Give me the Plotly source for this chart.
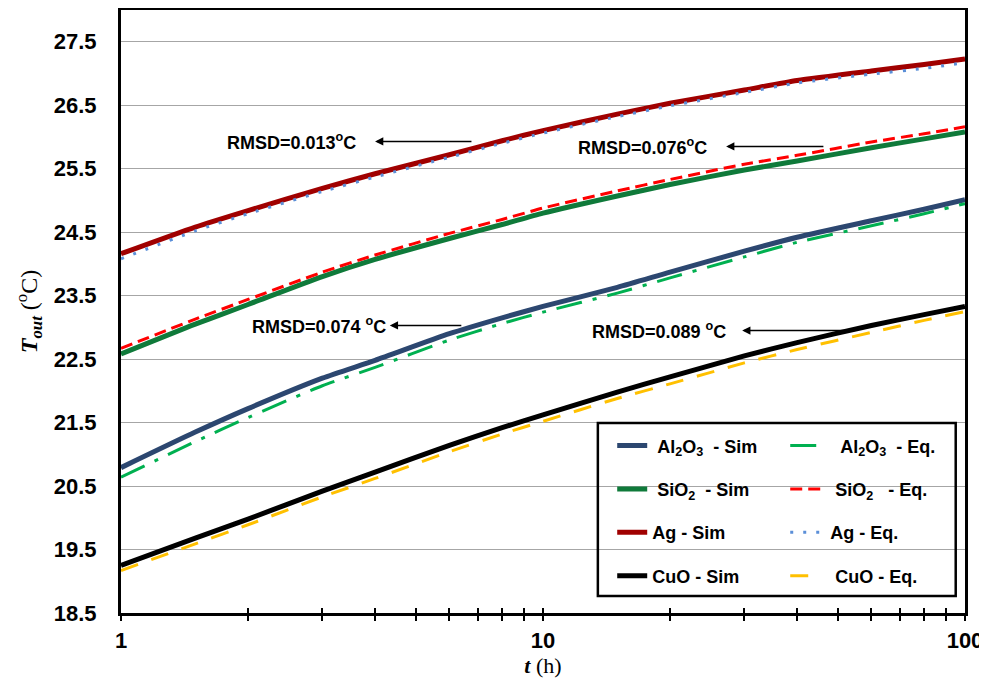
import plotly.graph_objects as go

# ---------------- data ----------------
t_hours = [1, 1.5, 2, 3, 4, 6, 8, 10, 15, 20, 30, 40, 60, 80, 100]

al2o3_sim = [20.79, 21.35, 21.72, 22.20, 22.48, 22.90, 23.15, 23.33, 23.63, 23.87, 24.20, 24.42, 24.68, 24.86, 25.01]
al2o3_eq = [20.64, 21.20, 21.58, 22.08, 22.37, 22.80, 23.06, 23.24, 23.54, 23.78, 24.11, 24.34, 24.60, 24.79, 24.95]

sio2_sim = [22.58, 23.05, 23.36, 23.80, 24.07, 24.40, 24.62, 24.80, 25.07, 25.25, 25.48, 25.62, 25.83, 25.97, 26.08]
sio2_eq = [22.67, 23.13, 23.44, 23.87, 24.14, 24.48, 24.70, 24.88, 25.15, 25.33, 25.57, 25.71, 25.92, 26.05, 26.16]

ag_sim = [24.16, 24.58, 24.84, 25.19, 25.42, 25.72, 25.94, 26.10, 26.36, 26.53, 26.74, 26.89, 27.04, 27.14, 27.23]
ag_eq = [24.08, 24.52, 24.79, 25.14, 25.37, 25.68, 25.90, 26.06, 26.32, 26.49, 26.70, 26.85, 26.99, 27.08, 27.17]

cuo_sim = [19.25, 19.68, 19.98, 20.42, 20.72, 21.14, 21.42, 21.62, 21.98, 22.22, 22.55, 22.76, 23.03, 23.20, 23.33]
cuo_eq = [19.17, 19.59, 19.89, 20.33, 20.62, 21.04, 21.32, 21.52, 21.88, 22.11, 22.44, 22.65, 22.92, 23.11, 23.25]

x_tick_vals = [1, 2, 3, 4, 5, 6, 7, 8, 9, 10, 20, 30, 40, 50, 60, 70, 80, 90, 100]
x_tick_text = ["1", "", "", "", "", "", "", "", "", "10", "", "", "", "", "", "", "", "", "100"]
y_tick_vals = [18.5, 19.5, 20.5, 21.5, 22.5, 23.5, 24.5, 25.5, 26.5, 27.5]
y_tick_text = ["18.5", "19.5", "20.5", "21.5", "22.5", "23.5", "24.5", "25.5", "26.5", "27.5"]

rmsd_labels = ["RMSD=0.013<sup>o</sup>C", "RMSD=0.076<sup>o</sup>C",
               "RMSD=0.074 <sup>o</sup>C", "RMSD=0.089 <sup>o</sup>C"]

sim_names = ["\u00a0Al<sub>2</sub>O<sub>3</sub>\u00a0\u00a0- Sim", "\u00a0SiO<sub>2</sub>\u00a0\u00a0- Sim",
             "Ag - Sim", "CuO - Sim"]
eq_names = ["\u00a0\u00a0\u00a0Al<sub>2</sub>O<sub>3</sub>\u00a0\u00a0- Eq.",
            "\u00a0\u00a0SiO<sub>2</sub>\u00a0\u00a0 - Eq.",
            "\u00a0Ag - Eq.", "\u00a0\u00a0CuO - Eq."]

# ---------------- styles ----------------
sim_series = [al2o3_sim, sio2_sim, ag_sim, cuo_sim]
eq_series = [al2o3_eq, sio2_eq, ag_eq, cuo_eq]
sim_colors = ["#2C4770", "#0F7A3A", "#A00000", "#000000"]
eq_colors = ["#00B050", "#FF0000", "#5B8FD8", "#FFC000"]
eq_dashes = ["26px,11px,4px,11px", "12px,6px", "3px,10px", "18px,14px"]

fig = go.Figure()
for i, (ys, nm) in enumerate(zip(sim_series, sim_names)):
    fig.add_trace(go.Scatter(
        x=t_hours, y=ys, name=nm, mode="lines",
        line=dict(color=sim_colors[i], width=5, shape="spline", smoothing=0.6),
        legend="legend", legendgroup="s%d" % i))
for i, (ys, nm) in enumerate(zip(eq_series, eq_names)):
    fig.add_trace(go.Scatter(
        x=t_hours, y=ys, name=nm, mode="lines",
        line=dict(color=eq_colors[i], width=3, dash=eq_dashes[i], shape="spline", smoothing=0.6),
        legend="legend2", legendgroup="e%d" % i))

# helper trace for the inside-tick overlay axis
fig.add_trace(go.Scatter(x=[t_hours[0], t_hours[-1]], y=[None, None], xaxis="x2",
                         showlegend=False, hoverinfo="skip", mode="lines"))

tick_font = dict(family="Liberation Sans, Arial", size=22, color="black", weight="bold")
lab_font = dict(family="Liberation Sans, Arial", size=18, color="black", weight="bold")

# annotation positions (log10 of t for x, value for y)
text_pos = [(0.405, 25.93), (1.235, 25.85), (0.468, 23.03), (1.276, 22.95)]
arrow_pos = [(0.602, 0.834, 25.93), (1.434, 1.668, 25.85), (0.637, 0.810, 23.03), (1.472, 1.723, 22.95)]

annotations = []
for lab, (tx, ty) in zip(rmsd_labels, text_pos):
    annotations.append(dict(x=tx, y=ty, xref="x", yref="y", text=lab, showarrow=False,
                            font=lab_font, xanchor="center", yanchor="middle"))
for (hx, tx, ay) in arrow_pos:
    annotations.append(dict(x=hx, y=ay, xref="x", yref="y", ax=tx, ay=ay, axref="x", ayref="y",
                            text="", showarrow=True, arrowhead=2, arrowsize=1.1, arrowwidth=1.5,
                            arrowcolor="black", standoff=0, startstandoff=0))

# page body adds an 8 px margin: figure is sized/offset to compensate
fig.update_layout(
    width=979, height=673,
    margin=dict(l=113, r=22, t=2, b=68, autoexpand=False),
    paper_bgcolor="white", plot_bgcolor="white",
    xaxis=dict(type="log", range=[0, 2], tickmode="array", tickvals=x_tick_vals, ticktext=x_tick_text,
               ticks="outside", ticklen=5, tickwidth=2, tickcolor="black", automargin=False,
               showline=True, linewidth=3, linecolor="black", mirror=True,
               showgrid=False, zeroline=False, tickfont=tick_font, ticklabelstandoff=1,
               title=dict(text="<b><i>t</i></b> (h)",
                          font=dict(family="Liberation Serif, Times New Roman", size=22, color="black"),
                          standoff=0)),
    xaxis2=dict(type="log", range=[0, 2], overlaying="x", anchor="y", side="bottom", automargin=False,
                tickmode="array", tickvals=x_tick_vals, ticks="inside", ticklen=5, tickwidth=2,
                tickcolor="black", showticklabels=False, showgrid=False, showline=False, zeroline=False),
    yaxis=dict(range=[18.5, 28.0], tickmode="array", tickvals=y_tick_vals, ticktext=y_tick_text,
               ticks="outside", ticklen=17, tickcolor="rgba(0,0,0,0)",
               showline=True, linewidth=3, linecolor="black", mirror=True, automargin=False,
               showgrid=True, gridcolor="#A6A6A6", gridwidth=1, zeroline=False,
               tickfont=tick_font,
               title=dict(text="<b><i>T<sub>out</sub></i></b> (<sup>o</sup>C)",
                          font=dict(family="Liberation Serif, Times New Roman", size=24, color="black"),
                          standoff=10)),
    legend=dict(x=0.582, y=0.308, xanchor="left", yanchor="top", bgcolor="rgba(0,0,0,0)",
                borderwidth=0, font=lab_font, tracegroupgap=17),
    legend2=dict(x=0.787, y=0.308, xanchor="left", yanchor="top", bgcolor="rgba(0,0,0,0)",
                 borderwidth=0, font=lab_font, tracegroupgap=17),
    shapes=[dict(type="rect", xref="paper", yref="paper", x0=0.565, x1=0.989, y0=0.028, y1=0.315,
                 line=dict(color="black", width=2.5), fillcolor="rgba(0,0,0,0)", layer="above")],
    annotations=annotations,
    showlegend=True,
)

fig.write_html("out.html")
